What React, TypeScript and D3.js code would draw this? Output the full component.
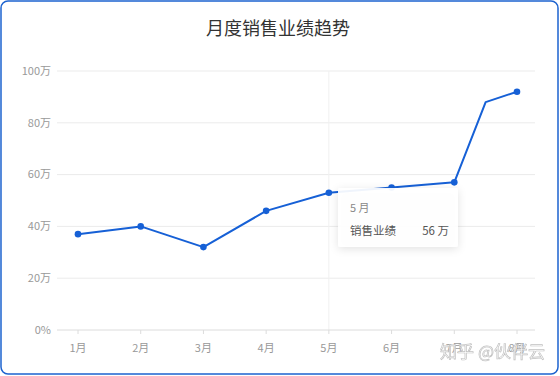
import React from "react";
import * as d3 from "d3";

const months = ["1月", "2月", "3月", "4月", "5月", "6月", "7月", "8月"];
// positions on the month index axis (6.5 = intermediate point without marker)
const pointPos = [0, 1, 2, 3, 4, 5, 6, 6.5, 7];
const values = [37, 40, 32, 46, 53, 55, 57, 88, 92];
const showMarker = [true, true, true, true, true, true, true, false, true];
const yTicks = [0, 20, 40, 60, 80, 100];
const yTickLabels = ["0%", "20万", "40万", "60万", "80万", "100万"];
const title = "月度销售业绩趋势";
const tooltipTitle = "5 月";
const tooltipName = "销售业绩";
const tooltipValue = "56 万";
const hoverIndex = 4;

const W = 560;
const H = 376;
const FONT = "'Noto Sans CJK SC', 'Noto Sans', sans-serif";

export default function App() {
  const x = d3.scaleLinear().domain([0, 7]).range([78, 517]);
  const y = d3.scaleLinear().domain([0, 100]).range([330, 71]);
  const gridX0 = 57;
  const gridX1 = 535;
  const line = d3
    .line<number>()
    .x((_, i) => x(pointPos[i]))
    .y((d) => y(d));
  const pts = values.map((v, i) => ({ v, i }));
  const hx = x(hoverIndex);
  const tipX = 338;
  const tipY = 188;

  return (
    <div style={{ position: "fixed", left: 0, top: 0, width: W, height: H, background: "#fff" }}>
      <svg width={W} height={H} style={{ display: "block", fontFamily: FONT }}>
        <defs>
          <filter id="sh" x="-30%" y="-30%" width="160%" height="160%">
            <feDropShadow dx="0" dy="2" stdDeviation="4" floodColor="#000" floodOpacity="0.12" />
          </filter>
        </defs>
        <rect x={1} y={1} width={557} height={373} rx={7} ry={7} fill="#fff" stroke="#1d63cf" strokeWidth={1.5} />
        <text x={278} y={35} textAnchor="middle" fontSize={18} fill="#333">
          {title}
        </text>
        {/* grid */}
        {yTicks.map((t, i) => (
          <g key={t}>
            {t !== 0 && (
              <line x1={gridX0} x2={gridX1} y1={y(t)} y2={y(t)} stroke="#ebebeb" strokeWidth={1} />
            )}
            <text
              x={51}
              y={y(t)}
              dy="0.35em"
              textAnchor="end"
              fontSize={11}
              fill="#999"
            >
              {yTickLabels[i]}
            </text>
          </g>
        ))}
        {/* crosshair */}
        <line x1={hx} x2={hx} y1={y(100)} y2={y(0)} stroke="#f0f0f0" strokeWidth={1} />
        {/* x axis */}
        <line x1={gridX0} x2={gridX1} y1={y(0)} y2={y(0)} stroke="#dcdcdc" strokeWidth={1} />
        {months.map((m, i) => (
          <g key={m}>
            <line x1={x(i)} x2={x(i)} y1={y(0)} y2={y(0) + 4} stroke="#dcdcdc" />
            <text x={x(i)} y={352} textAnchor="middle" fontSize={11} fill="#999">
              {m}
            </text>
          </g>
        ))}
        {/* line */}
        <path d={line(values) || ""} fill="none" stroke="#1660d6" strokeWidth={2} strokeLinejoin="round" />
        {pts
          .filter((p) => showMarker[p.i])
          .map((p) => (
            <circle key={p.i} cx={x(pointPos[p.i])} cy={y(p.v)} r={3.3} fill="#1660d6" />
          ))}
        {/* tooltip */}
        <rect
          x={tipX}
          y={tipY}
          width={120}
          height={59}
          rx={2}
          fill="rgba(255,255,255,0.93)"
          filter="url(#sh)"
        />
        <text x={tipX + 12} y={tipY + 24} fontSize={11} fill="#888">
          {tooltipTitle}
        </text>
        <text x={tipX + 12} y={tipY + 47} fontSize={11.5} fill="#555">
          {tooltipName}
        </text>
        <text x={tipX + 111} y={tipY + 47} textAnchor="end" fontSize={11.5} fill="#555">
          {tooltipValue}
        </text>
        {/* watermark */}
        <text
          x={545}
          y={358}
          textAnchor="end"
          fontSize={17}
          fill="#fff"
          stroke="#bdbdbd"
          strokeWidth={0.7}
          opacity={0.95}
        >
          知乎 @伙伴云
        </text>
      </svg>
    </div>
  );
}
